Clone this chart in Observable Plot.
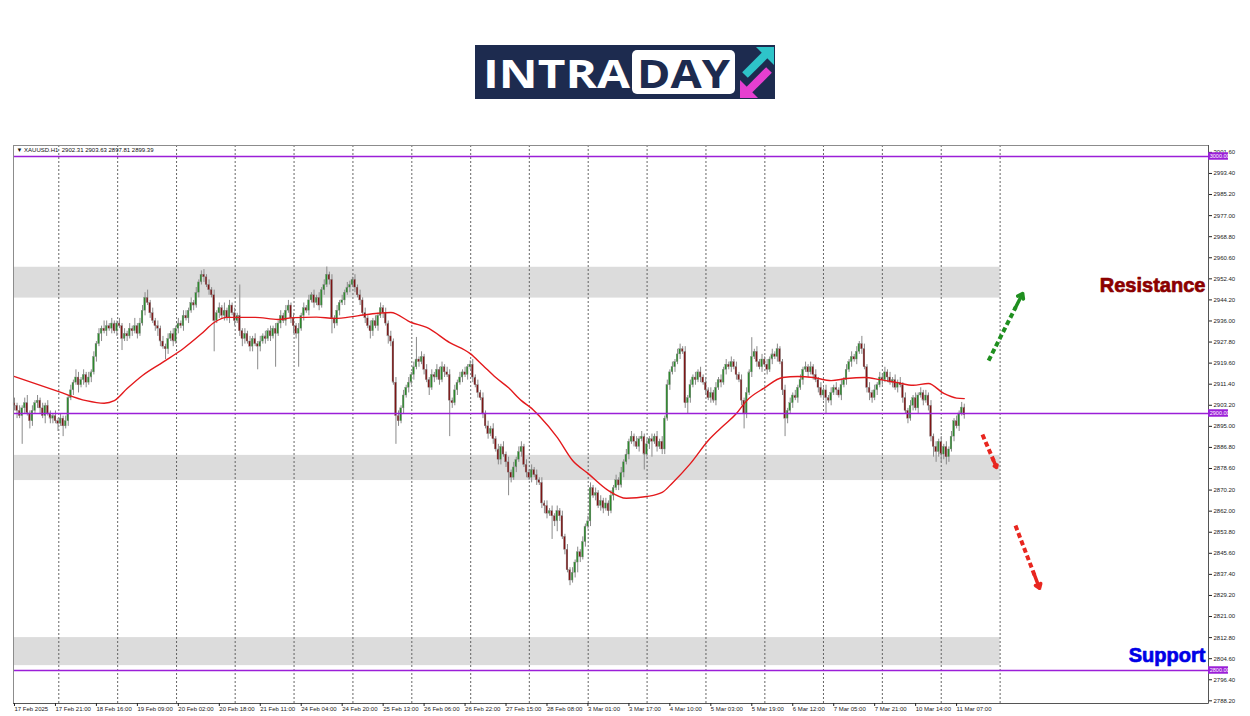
<!DOCTYPE html>
<html><head><meta charset="utf-8">
<script src="https://cdn.jsdelivr.net/npm/d3@7"></script>
<script src="https://cdn.jsdelivr.net/npm/@observablehq/plot@0.6"></script>
<style>
html,body{margin:0;padding:0;background:#fff;width:1250px;height:716px;overflow:hidden;position:relative;font-family:"Liberation Sans",Arial,sans-serif}
#logo{position:absolute;left:465px;top:35px}
#chart{position:absolute;left:0;top:140px}
</style></head><body>
<svg id="logo" width="320" height="74" viewBox="0 0 320 74">
  <g transform="translate(10,10)">
  <rect x="0" y="0" width="300" height="54" fill="#1d2b4f"/>
  <text x="8" y="43" fill="#fff" font-family="Open Sans" font-weight="700" font-size="40" textLength="147" lengthAdjust="spacingAndGlyphs">INTRA</text>
  <rect x="157" y="5" width="103" height="44" rx="5" fill="#fff"/>
  <text x="162" y="43" fill="#1d2b4f" font-family="Open Sans" font-weight="700" font-size="40" textLength="93" lengthAdjust="spacingAndGlyphs">DAY</text>
  <line x1="270" y1="30" x2="290" y2="10" stroke="#2ec4c9" stroke-width="8"/>
  <polygon points="281,2 299,2 299,20" fill="#2ec4c9"/>
  <line x1="294" y1="25" x2="274" y2="45" stroke="#e63fd0" stroke-width="8"/>
  <polygon points="265,35 265,53 283,53" fill="#e63fd0"/>
  </g>
</svg>
<div id="chart"></div>
<script>
// ---------- data ----------
const symbol = "XAUUSD.H1";
const firstOpen = 2904;
const closes = [
2903,2901,2899,2902,2904,2900,2897,2901,2904,2905,
2902,2899,2903,2900,2898,2899,2897,2896,2898,2895,
2897,2906,2909,2912,2914,2911,2913,2915,2912,2914,
2916,2922,2927,2931,2933,2932,2934,2933,2935,2932,
2935,2934,2929,2931,2930,2933,2932,2934,2931,2935,
2940,2945,2943,2939,2936,2934,2933,2928,2926,2925,
2929,2931,2928,2933,2935,2934,2938,2937,2940,2943,
2942,2947,2951,2954,2953,2950,2948,2946,2936,2939,
2941,2938,2940,2937,2942,2939,2936,2938,2932,2929,
2931,2928,2926,2929,2927,2926,2928,2930,2929,2932,
2930,2933,2931,2935,2938,2936,2940,2942,2937,2934,
2931,2933,2938,2941,2940,2944,2946,2943,2945,2942,
2948,2950,2954,2952,2937,2935,2940,2943,2944,2947,
2949,2950,2952,2949,2946,2944,2939,2937,2934,2932,
2936,2934,2938,2941,2939,2935,2930,2928,2912,2899,
2897,2902,2907,2910,2912,2915,2918,2921,2920,2922,
2917,2913,2910,2915,2914,2917,2913,2918,2916,2915,
2905,2904,2909,2912,2914,2916,2915,2918,2919,2914,
2911,2908,2906,2900,2895,2892,2894,2890,2886,2882,
2887,2884,2881,2877,2875,2879,2882,2885,2887,2880,
2877,2875,2878,2876,2874,2873,2865,2864,2861,2862,
2860,2858,2862,2860,2852,2847,2839,2835,2838,2842,
2846,2844,2850,2856,2858,2871,2868,2869,2864,2866,
2863,2865,2862,2868,2871,2874,2872,2877,2881,2884,
2889,2891,2889,2887,2890,2891,2884,2888,2890,2889,
2891,2887,2889,2886,2898,2911,2916,2918,2920,2923,
2925,2924,2904,2906,2911,2914,2913,2916,2914,2912,
2909,2906,2908,2905,2910,2913,2912,2917,2919,2918,
2920,2918,2915,2913,2905,2900,2908,2916,2922,2924,
2920,2918,2921,2919,2917,2921,2923,2922,2925,2920,
2909,2898,2901,2904,2907,2906,2910,2913,2917,2918,
2916,2918,2915,2913,2910,2907,2909,2906,2905,2908,
2910,2909,2907,2911,2913,2917,2920,2922,2921,2924,
2927,2925,2918,2910,2908,2906,2909,2911,2914,2913,
2916,2914,2912,2913,2910,2912,2911,2906,2901,2898,
2903,2906,2902,2907,2908,2905,2907,2903,2891,2887,
2885,2889,2884,2887,2883,2886,2891,2897,2895,2900,
2902.31,2899.39];
const upWick = [
2,1,2,1,2,3,1,2,1,2, 1,2,1,2,1,1,2,1,2,1, 2,1,2,1,3,2,1,2,1,2, 1,2,1,2,1,3,2,1,2,1,
1,2,1,2,1,2,1,3,1,2, 2,2,3,1,2,1,2,1,2,1, 2,1,2,1,2,1,2,2,1,2, 1,2,1,1.5,2,1,2,1,2,1,
2,1,3,1,2,1,2,1,12,1, 2,1,2,1,2,1,2,1,2,1, 2,1,2,1,2,1,2,2,1,2, 1,2,1,2,1,2,1,2,1,2,
1,2,3,1,2,1,2,1,2,1, 2,1.5,1,2,1,2,1,2,1,2, 1,2,1,2,1,2,1,2,1,2, 2,1,2,1,2,1,2,8.6,1,2,
1,2,1,2,1,2,1,2,1,2, 2,1,2,1,2,1,2,1,1.5,2, 1,2,1,2,1,2,1,2,1,2, 1,2,1,2,1,2,1,2,2,1,
2,1,2,1,2,1,2,1,2,1, 2,1,2,1,2,1,2,1,2,1, 2,1,2,1,2,2,1,2,1,2, 1,2,1,2,1,2,1,2,1,2,
1,2,1,2,1,2,1,2,1,2, 1,2,1,2,1,2,1,2,1,2, 2,1,2,1,2,1,2,1,2,1, 2,1,2,1,2,1,2,1,2,1,
2,1,2,1,2,1,2,1,7.5,1, 2,1,2,1,2,1,2,1,2,1, 1,2,1,2,1,2,1,2,1,2, 1,2,1,2,1,2,1,2,1,2,
1,2,1,2,1,2,1,2,1,2, 1,3,2,1,2,1,2,1,2,1, 2,1,2,1,2,1,2,1,2,1, 2,1,2,1,2,1,2,1,2,1,
2,1,2,1,2,1,2,1,2,1, 2,1.32];
const downWick = [
2,3,1,11,2,1,3,2,1,2, 2,1,3,1,2,2,1,3,1,4, 1,2,1,2,1,3,1,2,2,1, 2,1,2,1,3,1,2,1,2,1,
2,1,4.5,1,2,1,2,1,2,1, 1,2,1,2,1,2,3,2,1,4, 2,1,2,1,2,1,2,1,2,1, 2,1,2,1,2,1,2,1,12,1,
2,1,2,1,2,1,2,1,2,3, 2,1,2,2,1,9,2,1,2,1, 2,1,13,1,2,1,2,1,2,3, 2,13,1,2,1,2,1,2,1,2,
1,2,1,2,6,2,1,2,1,2, 1,2,1,2,1,2,1,2,1,3, 2,1,2,1,2,1,3,2,1,11, 2,1,2,1,2,1,2,1,2,1,
2,1,3,1,2,1,2,1,2,1, 14,2,1,2,1,2,1,2,1,2, 1,2,1,2,1,2,1,2,1,2, 2,1,2,9,2,1,2,1,2,1,
2,1,2,1,2,1,2,3,2,1, 9,2,4,2,1,2,1,2,1,2, 4,2,1,2,1,2,1,2,1,2, 2,1,2,1,2,1,2,1,2,1,
2,1,2,1,2,1,6,1,2,6, 1,2,1,2,2,1,2,1,2,1, 2,1,2,4,2,1,2,1,2,1, 2,1,2,1,2,1,2,1,2,1,
2,1,2,1,2,6,2,1,2,1, 2,1,2,1,2,1,2,1,2,1, 2,7,2,1,2,1,2,1,2,1, 2,1,2,1,2,1,2,6,1,2,
1,2,1,2,1,2,1,2,1,2, 1,2,1,2,3,2,1,2,1,2, 1,2,1,2,1,2,1,2,1,2, 1,2,1,2,1,2,1,2,2,4,
4,2,3,2,3,2,1,2,1,2, 1,1.58];
// moving average (red) read at bar positions
const maBar = [0,17,28,35,39,44,50,58,66,73,78,83,94,103,109,118,125,134,142,147,155,161,170,178,183,188,193,198,202,205,212,218,224,232,239,247,253,257,264,271,277,282,286,293,300,306,312,319,325,332,338,345,351,357,363,368,371];
const maVal = [2914.4,2908.6,2905,2904,2905,2909.7,2914.8,2920,2925.3,2931,2935.4,2937.4,2937.4,2936.6,2937.3,2937.5,2937,2938,2939,2939.3,2935.4,2933.5,2927.6,2923.3,2918.7,2914,2910,2905,2902,2899,2890.7,2881.7,2876.7,2870,2867,2867.7,2869.3,2873,2880.5,2889.5,2895.3,2900,2905,2910,2914,2914.4,2914,2912.8,2913.6,2914,2913.2,2912,2911,2911.7,2907.8,2906,2905.8];
const xLabels = ["17 Feb 2025","17 Feb 21:00","18 Feb 16:00","19 Feb 09:00","20 Feb 02:00","20 Feb 18:00","21 Feb 11:00","24 Feb 04:00","24 Feb 20:00","25 Feb 13:00","26 Feb 06:00","26 Feb 22:00","27 Feb 15:00","28 Feb 08:00","3 Mar 01:00","3 Mar 17:00","4 Mar 10:00","5 Mar 03:00","5 Mar 19:00","6 Mar 12:00","7 Mar 05:00","7 Mar 21:00","10 Mar 14:00","11 Mar 07:00"];
const barsPerLabel = 16;
const yTickLabels = ["3001.60","2993.40","2985.20","2977.00","2968.80","2960.60","2952.40","2944.20","2936.00","2927.80","2919.60","2911.40","2903.20","2895.00","2886.80","2878.60","2870.20","2862.00","2853.80","2845.60","2837.40","2829.20","2821.00","2812.80","2804.60","2796.40","2788.20"];
const gridBars = [17.3,40.3,63.3,86.2,109.2,132.2,155.2,178.2,201.1,224.1,247.1,270.1,293.1,316,339,362,385];
const levels = [3000, 2900, 2800];
const zoneLo = [2944.9, 2873.9, 2801.9];
const zoneHi = [2956.9, 2883.7, 2812.8];
const arrowFromBar = [380.5, 378.1, 391];
const arrowFromPrice = [2920.6, 2891.8, 2856.4];
const arrowToBar = [393.8, 383.6, 400.4];
const arrowToPrice = [2946.7, 2879, 2832];
const arrowColor = ["#1f8f1f", "#e8261f", "#e8261f"];
const noteText = ["Resistance", "Support"];
const noteBar = [465.2, 465.2];
const notePrice = [2949.8, 2805.8];
const noteColor = ["#8b0000", "#0000e6"];

// ---------- build ----------
const n = Math.min(closes.length, upWick.length, downWick.length);
const bars = d3.range(n).map(i => {
  const o = i === 0 ? firstOpen : closes[i - 1];
  const c = closes[i];
  return {i, o, c, h: Math.max(o, c) + upWick[i], l: Math.min(o, c) - downWick[i], up: c >= o};
});
const last = bars[n - 1];
const ma = maBar.map((b, k) => ({b, v: maVal[k]}));
const zones = zoneLo.map((lo, k) => ({lo, hi: zoneHi[k]}));
const arrows = arrowFromBar.map((x1, k) => ({x1, y1: arrowFromPrice[k], x2: arrowToBar[k], y2: arrowToPrice[k], c: arrowColor[k]}));
const notes = noteText.map((t, k) => ({t, x: noteBar[k], y: notePrice[k], c: noteColor[k]}));
const yTicks = yTickLabels.map(Number);
const xTicks = xLabels.map((_, k) => k * barsPerLabel);

const xMin = -0.39, xMax = 466.4;
const yMin = 2787.16, yMax = 3004.28;
const purple = "#9b1fd8";

const chart = Plot.plot({
  width: 1250, height: 576,
  marginLeft: 13, marginRight: 42, marginTop: 5, marginBottom: 13,
  x: {domain: [xMin, xMax]},
  y: {domain: [yMin, yMax]},
  style: {fontFamily: "Liberation Sans, Arial, sans-serif", fontSize: "6px", background: "#fff", color: "#222"},
  marks: [
    Plot.rect(zones, {x1: xMin, x2: gridBars[gridBars.length - 1], y1: "lo", y2: "hi", fill: "#dcdcdc"}),
    Plot.ruleX(gridBars, {stroke: "#555", strokeDasharray: "2,2", strokeWidth: 0.9}),
    Plot.ruleX(bars, {x: "i", y1: "l", y2: "h", stroke: "#8a8a8a", strokeWidth: 1}),
    Plot.rect(bars, {x1: d => d.i - 0.34, x2: d => d.i + 0.34, y1: "o", y2: "c", fill: d => d.up ? "#2b8a2b" : "#7e1515", stroke: "#8a8a8a", strokeWidth: 0.35}),
    Plot.line(ma, {x: "b", y: "v", stroke: "#e3191c", strokeWidth: 1.4, curve: "monotone-x"}),
    Plot.ruleY(levels, {stroke: purple, strokeWidth: 1.5}),
    Plot.frame({stroke: "#8c8c8c"}),
    Plot.ruleX([xMax], {stroke: "#555", strokeWidth: 1}),
    Plot.ruleY([yMin], {stroke: "#555", strokeWidth: 1}),
    Plot.axisY(yTicks, {anchor: "right", label: null, tickSize: 3, tickPadding: 2, tickFormat: d => d.toFixed(2), fontSize: 6, fill: "#222"}),
    Plot.axisX(xTicks, {anchor: "bottom", label: null, tickSize: 3, tickPadding: 0, textAnchor: "start", tickFormat: d => xLabels[d / barsPerLabel], fontSize: 6, fill: "#222"}),
    Plot.rect(levels, {x1: xMax, x2: xMax + 7.8, y1: d => d - 1.45, y2: d => d + 1.45, fill: purple}),
    Plot.text(levels, {x: xMax, y: d => d, text: d => d.toFixed(2), dx: 1.2, textAnchor: "start", fill: "#fff", fontSize: 5.5}),
    Plot.link(arrows, {x1: "x1", y1: "y1", x2: d => d.x1 + 0.8 * (d.x2 - d.x1), y2: d => d.y1 + 0.8 * (d.y2 - d.y1), stroke: "c", strokeWidth: 4, strokeDasharray: "5,3"}),
    Plot.arrow(arrows, {x1: d => d.x1 + 0.78 * (d.x2 - d.x1), y1: d => d.y1 + 0.78 * (d.y2 - d.y1), x2: "x2", y2: "y2", stroke: "c", strokeWidth: 3.5, headLength: 10, headAngle: 70}),
    Plot.text(notes, {x: "x", y: "y", text: "t", fill: "c", stroke: "c", strokeWidth: 0.7, textAnchor: "end", fontSize: 20, fontWeight: "bold"}),
    Plot.text([`\u25BC ${symbol}  ${last.o.toFixed(2)} ${last.h.toFixed(2)} ${last.l.toFixed(2)} ${last.c.toFixed(2)}`], {frameAnchor: "top-left", dx: 3, dy: 2, fontSize: 6, fill: "#111"})
  ]
});
document.getElementById("chart").appendChild(chart);
</script>
</body></html>
